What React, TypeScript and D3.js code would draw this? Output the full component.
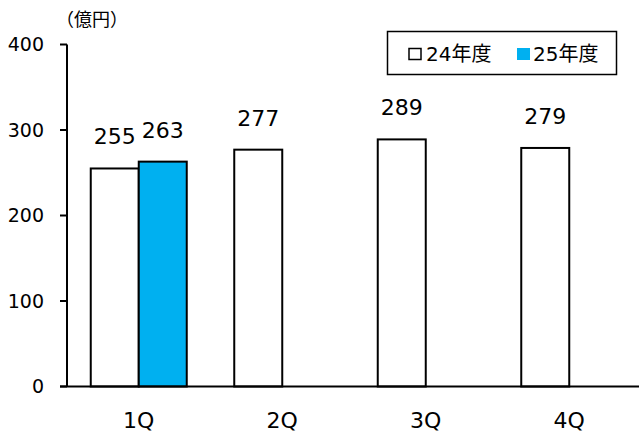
import React, { useEffect, useRef } from 'react';
import * as d3 from 'd3';

const quarters = ['1Q', '2Q', '3Q', '4Q'];
const seriesNames = ['24年度', '25年度'];
const values24 = [255, 277, 289, 279];
const values25: (number | null)[] = [263, null, null, null];
const yTicks = [0, 100, 200, 300, 400];
const unitLabel = '（億円）';

const W = 639;
const H = 435;
const FONT = '"DejaVu Sans", "Noto Sans CJK JP", sans-serif';
const BLUE = '#00B0F0';

const App = () => {
  const svgRef = useRef<SVGSVGElement>(null);

  useEffect(() => {
    const svg = d3.select(svgRef.current);
    svg.selectAll('*').remove();

    const left = 67;
    const right = 641;
    const top = 44.5;
    const bottom = 386.5;

    const x = d3.scaleBand().domain(quarters).range([left, right]).padding(0);
    const y = d3.scaleLinear().domain([0, 400]).range([bottom, top]);
    const groupWidth = 96;
    const inner = d3.scaleBand().domain(seriesNames).range([0, groupWidth]).padding(0);

    // y ticks and labels
    svg.selectAll('.ytick')
      .data(yTicks)
      .enter()
      .append('line')
      .attr('x1', left - 7)
      .attr('x2', left)
      .attr('y1', d => y(d))
      .attr('y2', d => y(d))
      .attr('stroke', '#000')
      .attr('stroke-width', 2);

    svg.selectAll('.ylabel')
      .data(yTicks)
      .enter()
      .append('text')
      .attr('x', 44)
      .attr('y', d => y(d))
      .attr('dy', '0.36em')
      .attr('text-anchor', 'end')
      .attr('font-family', FONT)
      .attr('font-size', 19)
      .attr('fill', '#000')
      .text(d => d);

    svg.append('text')
      .attr('x', 56)
      .attr('y', 26)
      .attr('font-family', FONT)
      .attr('font-size', 18)
      .attr('fill', '#000')
      .text(unitLabel);

    // bars
    const rows = quarters.map((q, i) => ({ q, v24: values24[i], v25: values25[i] }));
    const g = svg.append('g');

    rows.forEach(r => {
      const gx = (x(r.q) as number) + x.bandwidth() / 2 - groupWidth / 2;
      const pairs: [string, number | null, string][] = [
        [seriesNames[0], r.v24, '#fff'],
        [seriesNames[1], r.v25, BLUE],
      ];
      pairs.forEach(([name, v, fill]) => {
        if (v == null) return;
        const bx = gx + (inner(name) as number);
        g.append('rect')
          .attr('x', bx)
          .attr('y', y(v))
          .attr('width', inner.bandwidth())
          .attr('height', y(0) - y(v))
          .attr('fill', fill)
          .attr('stroke', '#000')
          .attr('stroke-width', 2);
        g.append('text')
          .attr('x', bx + inner.bandwidth() / 2)
          .attr('y', y(v) - 24)
          .attr('text-anchor', 'middle')
          .attr('font-family', FONT)
          .attr('font-size', 22)
          .attr('fill', '#000')
          .text(v);
      });
    });

    // axes lines
    svg.append('line')
      .attr('x1', left)
      .attr('x2', left)
      .attr('y1', top)
      .attr('y2', bottom)
      .attr('stroke', '#000')
      .attr('stroke-width', 2);
    svg.append('line')
      .attr('x1', left - 7)
      .attr('x2', W)
      .attr('y1', bottom)
      .attr('y2', bottom)
      .attr('stroke', '#000')
      .attr('stroke-width', 2);

    svg.selectAll('.xlabel')
      .data(quarters)
      .enter()
      .append('text')
      .attr('x', d => (x(d) as number) + x.bandwidth() / 2)
      .attr('y', 428)
      .attr('text-anchor', 'middle')
      .attr('font-family', FONT)
      .attr('font-size', 22)
      .attr('fill', '#000')
      .text(d => d);

    // legend
    const lg = svg.append('g');
    lg.append('rect')
      .attr('x', 387.5)
      .attr('y', 31.5)
      .attr('width', 229)
      .attr('height', 43)
      .attr('fill', '#fff')
      .attr('stroke', '#000')
      .attr('stroke-width', 1.5);
    lg.append('rect')
      .attr('x', 409)
      .attr('y', 48.5)
      .attr('width', 12)
      .attr('height', 11)
      .attr('fill', '#fff')
      .attr('stroke', '#000')
      .attr('stroke-width', 1.5);
    lg.append('text')
      .attr('x', 426)
      .attr('y', 61)
      .attr('font-family', FONT)
      .attr('font-size', 20)
      .attr('fill', '#000')
      .text(seriesNames[0]);
    lg.append('rect')
      .attr('x', 517)
      .attr('y', 48)
      .attr('width', 13)
      .attr('height', 12)
      .attr('fill', BLUE);
    lg.append('text')
      .attr('x', 533)
      .attr('y', 61)
      .attr('font-family', FONT)
      .attr('font-size', 20)
      .attr('fill', '#000')
      .text(seriesNames[1]);
  }, []);

  return (
    <svg
      ref={svgRef}
      width={W}
      height={H}
      style={{ position: 'absolute', left: 0, top: 0, background: '#fff' }}
    />
  );
};

export default App;
